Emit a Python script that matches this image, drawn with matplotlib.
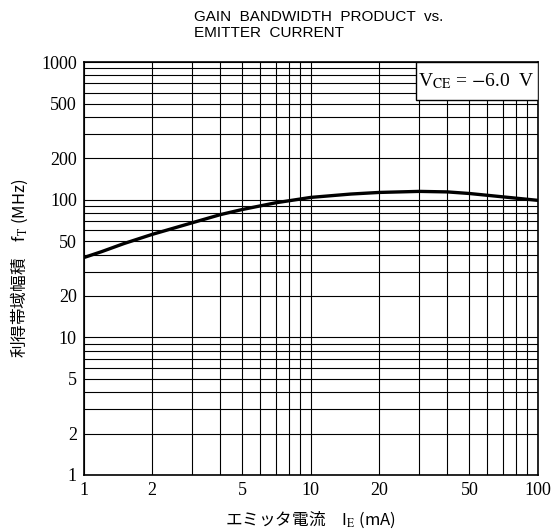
import numpy as np
import matplotlib
matplotlib.use('Agg')
import matplotlib.pyplot as plt
from matplotlib.patches import Rectangle
from matplotlib.ticker import LogLocator, FixedLocator, NullFormatter

plt.rcParams['mathtext.fontset'] = 'stix'

# data
ie_ma = [1, 1.2, 1.5, 2, 3, 4, 5, 7, 10, 15, 20, 30, 40, 50, 70, 100]
ft_mhz = [38, 42, 48, 56, 68, 78, 85, 95, 104, 110, 113, 115, 114, 111, 105, 99]

x_ticks = [1, 2, 5, 10, 20, 50, 100]
y_ticks = [1, 2, 5, 10, 20, 50, 100, 200, 500, 1000]

fig = plt.figure(figsize=(5.55, 5.31), dpi=100)
ax = fig.add_axes([0.151, 0.1055, 0.818, 0.7775])

ax.set_xscale('log')
ax.set_yscale('log')
ax.set_xlim(1, 100)
ax.set_ylim(1, 1000)

# grid
ax.xaxis.set_minor_locator(LogLocator(base=10, subs=np.arange(2, 10)))
ax.yaxis.set_minor_locator(LogLocator(base=10, subs=np.arange(2, 10)))
ax.xaxis.set_major_locator(FixedLocator(x_ticks))
ax.yaxis.set_major_locator(FixedLocator(y_ticks))
ax.xaxis.set_minor_formatter(NullFormatter())
ax.yaxis.set_minor_formatter(NullFormatter())
ax.set_xticklabels([str(v) for v in x_ticks])
ax.set_yticklabels([str(v) for v in y_ticks])
ax.grid(True, which='both', color='black', linewidth=0.8)
ax.set_axisbelow(True)
ax.tick_params(which='both', length=0, labelsize=13, pad=5)
for lab in ax.get_xticklabels() + ax.get_yticklabels():
    lab.set_fontfamily('Liberation Serif')
for sp in ax.spines.values():
    sp.set_linewidth(1.2)

ax.plot(ie_ma, ft_mhz, color='black', linewidth=2.4, zorder=3)

# condition box
ax.add_patch(Rectangle((0.731, 0.908), 0.269, 0.092, transform=ax.transAxes,
                       facecolor='white', edgecolor='black', linewidth=1.0, zorder=4))
ax.text(0.993, 0.954, r'V$_{\rm CE}$ = $-$6.0  V', transform=ax.transAxes,
        ha='right', va='center', fontsize=14, family='Liberation Serif', zorder=5)

fig.text(0.35, 0.953, 'GAIN  BANDWIDTH  PRODUCT  vs.\nEMITTER  CURRENT',
         ha='left', va='center', fontsize=11, family='Liberation Sans', linespacing=1.1)

ax.set_xlabel(r'エミッタ電流　I$_{\rm E}$ (mA)', fontsize=12,
              family=['Noto Sans CJK JP', 'DejaVu Sans'], labelpad=8)
ax.set_ylabel(r'利得帯域幅積　f$_{\rm T}$ (MHz)', fontsize=12,
              family=['Noto Sans CJK JP', 'DejaVu Sans'], labelpad=8)

fig.savefig('out.png', dpi=100, facecolor='white')
